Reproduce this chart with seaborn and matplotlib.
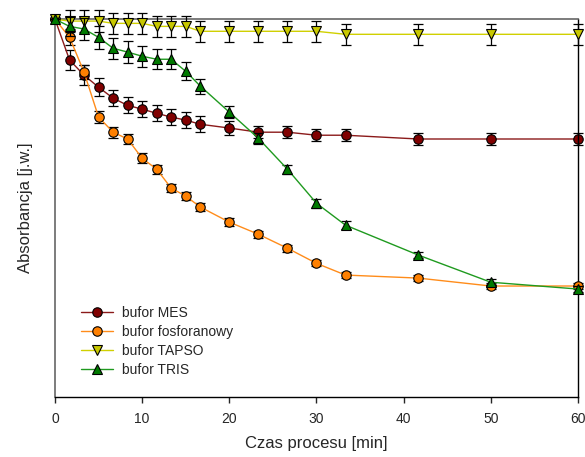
import numpy as np
import pandas as pd
import matplotlib
matplotlib.use('Agg')
import matplotlib.pyplot as plt
import seaborn as sns

# czas procesu [min]
czas = [0, 1.67, 3.33, 5, 6.67, 8.33, 10, 11.67, 13.33, 15, 16.67,
        20, 23.33, 26.67, 30, 33.33, 41.67, 50, 60]

# absorbancja (j.w.)
mes = [1.0, 0.892, 0.852, 0.820, 0.791, 0.772, 0.762, 0.751, 0.741, 0.733,
       0.722, 0.712, 0.701, 0.701, 0.693, 0.693, 0.683, 0.683, 0.683]
mes_err = [0.0, 0.026, 0.026, 0.024, 0.022, 0.021, 0.021, 0.021, 0.021, 0.021,
           0.021, 0.018, 0.016, 0.016, 0.016, 0.016, 0.016, 0.016, 0.016]

fosforan = [1.0, 0.952, 0.860, 0.741, 0.701, 0.683, 0.632, 0.603, 0.553, 0.532,
            0.503, 0.463, 0.431, 0.394, 0.354, 0.323, 0.315, 0.294, 0.294]
fosforan_err = [0.0, 0.021, 0.018, 0.016, 0.015, 0.013, 0.013, 0.012, 0.011, 0.011,
                0.011, 0.010, 0.009, 0.009, 0.008, 0.008, 0.008, 0.008, 0.008]

tapso = [1.0, 0.995, 0.995, 0.995, 0.989, 0.989, 0.989, 0.981, 0.981, 0.981,
         0.968, 0.968, 0.968, 0.968, 0.968, 0.960, 0.960, 0.960, 0.960]
tapso_err = [0.0, 0.029, 0.029, 0.029, 0.028, 0.028, 0.028, 0.028, 0.028, 0.028,
             0.028, 0.028, 0.028, 0.028, 0.028, 0.028, 0.028, 0.028, 0.028]

tris = [1.0, 0.981, 0.974, 0.952, 0.923, 0.913, 0.902, 0.894, 0.894, 0.862,
        0.823, 0.754, 0.685, 0.603, 0.513, 0.455, 0.376, 0.304, 0.286]
tris_err = [0.0, 0.026, 0.03, 0.03, 0.028, 0.028, 0.028, 0.026, 0.026, 0.024,
            0.02, 0.016, 0.014, 0.012, 0.012, 0.01, 0.009, 0.008, 0.008]

serie = [
    ('bufor MES', mes, mes_err, 'o', '#800000', '#8b1a1a'),
    ('bufor fosforanowy', fosforan, fosforan_err, 'o', '#ff8000', '#ff8c1a'),
    ('bufor TAPSO', tapso, tapso_err, 'v', '#c8c800', '#d0d000'),
    ('bufor TRIS', tris, tris_err, '^', '#007a00', '#1f9a1f'),
]

sns.set_style('ticks')
plt.rcParams['font.family'] = ['Liberation Sans', 'DejaVu Sans']

fig = plt.figure(figsize=(5.85, 4.57), dpi=100)
ax = fig.add_axes([0.094, 0.131, 0.894, 0.827])

for i, (nazwa, y, err, mk, kolor, kolor_linii) in enumerate(serie):
    ax.errorbar(czas, y, yerr=err, fmt='none', ecolor='black', elinewidth=0.9,
                capsize=3.8, capthick=0.9, zorder=2 + i, clip_on=False)
    sns.lineplot(x=czas, y=y, ax=ax, color=kolor_linii, linewidth=1.0,
                 marker=mk, markersize=6.8 if mk == 'o' else 7.2,
                 markerfacecolor=kolor, markeredgecolor='black', markeredgewidth=0.8,
                 label=nazwa, zorder=2.5 + i, clip_on=False)

ax.set_xlim(0, 60)
ax.set_ylim(0, 1.0)
ax.set_xticks([0, 10, 20, 30, 40, 50, 60])
ax.set_yticks([])
ax.tick_params(axis='x', direction='out', length=4, width=1, labelsize=10, pad=7)
for s in ['left', 'top']:
    ax.spines[s].set_color('#666666')
    ax.spines[s].set_linewidth(1.2)
for s in ['right', 'bottom']:
    ax.spines[s].set_color('black')
    ax.spines[s].set_linewidth(1.0)

ax.set_xlabel('Czas procesu [min]', fontsize=12, labelpad=7)
ax.set_ylabel('Absorbancja [j.w.]', fontsize=12, labelpad=16)

leg = ax.legend(loc='lower left', bbox_to_anchor=(0.026, 0.02), frameon=False,
                fontsize=10, handlelength=2.3, handletextpad=0.65, labelspacing=0.36)

fig.savefig('out.png', dpi=100)
